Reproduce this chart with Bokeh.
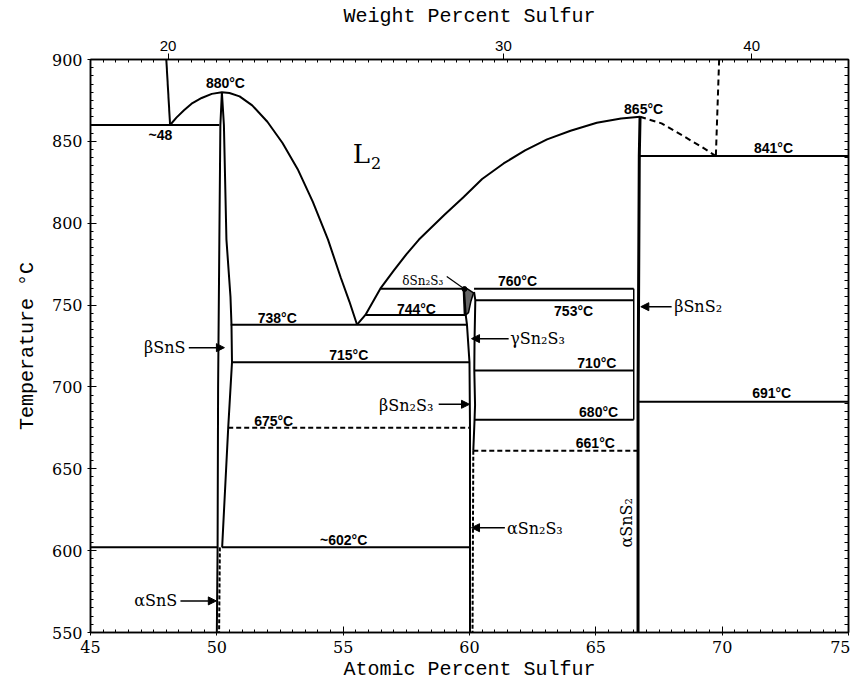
import numpy as np
from bokeh.plotting import figure
from bokeh.models import (Range1d, LinearAxis, FixedTicker, SingleIntervalTicker, Arrow,
                          NormalHead, CustomJSTickFormatter)
from bokeh.core.properties import value
from bokeh.embed import file_html
from bokeh.resources import INLINE

# ---------------- data ----------------
M_SN, M_S = 118.71, 32.06
wt_ticks = [20, 30, 40]

# L1 boundary (upper left)
l1_x = [48.0, 48.15]
l1_T = [900, 860]
# SnS dome liquidus
dome_x = [48.15, 48.4, 48.7, 49.0, 49.4, 49.8, 50.2, 50.5, 50.9, 51.4, 52.0, 52.6, 53.2, 53.8, 54.4, 54.9, 55.25, 55.55]
dome_T = [860, 864.5, 869, 873, 876.5, 879, 880, 879.5, 877.5, 872, 862, 849, 833, 813, 790, 767, 752, 738]
# Right liquidus (to SnS2)
liq_x = [55.55, 55.88, 56.47, 57.0, 57.5, 58.0, 58.5, 59.0, 59.77, 60.5, 61.35, 62.2, 63.07, 64.0, 65.04, 66.0, 66.75]
liq_T = [738, 744, 760, 771, 781, 790, 797.5, 805, 816, 827, 836.5, 844.5, 851.2, 856.5, 861.4, 864, 865]
# Dashed liquidus beyond SnS2
dliq_x = [66.75, 67.6, 68.47, 69.2, 69.75]
dliq_T = [865, 861, 853.2, 846.5, 841]
dvert_x = [69.88, 69.75]
dvert_T = [900, 841]

# Invariant lines (solid)
hs_T = [860, 841, 760, 760, 753, 744, 738, 715, 710, 691, 680, 602, 602]
hs_x0 = [45, 66.75, 56.47, 60.18, 60.22, 55.88, 50.55, 50.6, 60.2, 66.7, 60.2, 45, 50.2]
hs_x1 = [50.1, 75, 59.78, 66.5, 66.5, 59.85, 59.9, 60.0, 66.5, 75, 66.5, 50.05, 60.0]
# Invariant lines (dashed)
hd_T = [675, 661]
hd_x0 = [50.45, 60.15]
hd_x1 = [60.0, 66.67]

# SnS phase boundaries
sns_l_x = [50.2, 50.14, 50.1, 50.05, 50.03, 50.0]
sns_l_T = [880, 860, 790, 700, 602, 550]
sns_r_x = [50.2, 50.28, 50.38, 50.54, 50.58, 50.6, 50.45, 50.21]
sns_r_T = [880, 860, 790, 755, 738, 715, 675, 602]
asns_x = [50.12, 50.09]
asns_T = [602, 550]
# Sn2S3 boundaries
s23_l_x = [59.78, 59.85, 59.9, 60.0, 60.02, 60.02]
s23_l_T = [760, 744, 738, 715, 675, 550]
s23_r_x = [60.18, 60.23, 60.2, 60.19, 60.22, 60.2, 60.15]
s23_r_T = [758, 753, 729, 710, 689, 680, 661]
s23_d_x = [60.15, 60.12]
s23_d_T = [661, 550]
delta_x = [59.8, 59.76, 59.9, 60.16, 60.05, 59.96, 59.83]
delta_T = [744, 759, 760, 757.5, 752, 745.4, 743.7]
# SnS2 lines
sns2_x = [66.75, 66.72, 66.67, 66.67]
sns2_T = [865, 841, 691, 550]
sns2b_x = [66.5, 66.5]
sns2b_T = [760, 680]

# Temperature labels
tl_text = ["880°C", "~48", "865°C", "841°C", "760°C", "744°C", "738°C", "753°C",
           "715°C", "710°C", "675°C", "680°C", "691°C", "661°C", "~602°C"]
tl_x = [50.34, 47.77, 66.89, 72.03, 61.9, 57.9, 52.39, 64.12, 55.22, 65.04, 52.25, 65.11, 71.96, 64.98, 55.02]
tl_T = [885.8, 853.6, 869.5, 846, 764.7, 747.8, 742.3, 746.3, 719.3, 714.8, 679, 684.7, 696, 666, 606.5]

# Phase labels
pr_text = ["βSnS", "βSn₂S₃", "αSnS"]          # right-aligned
pr_x = [48.76, 58.57, 48.43]
pr_T = [724, 688.5, 569.3]
pl_text = ["γSn₂S₃", "βSnS₂", "αSn₂S₃"]       # left-aligned
pl_x = [61.61, 68.1, 61.48]
pl_T = [729.5, 749, 613.5]

# Arrows: start -> end
ar_x0 = [48.89, 58.78, 61.55, 68.0, 61.4, 48.56]
ar_T0 = [724, 689.4, 729.5, 749, 614, 569.3]
ar_x1 = [50.3, 60.0, 60.08, 66.78, 60.08, 49.98]
ar_T1 = [724, 689.4, 729.5, 749, 614, 569.3]

# ---------------- figure ----------------
p = figure(x_range=Range1d(45, 75), y_range=Range1d(550, 900),
           frame_width=758, frame_height=573,
           min_border_left=90, min_border_right=2, min_border_top=59, min_border_bottom=45,
           output_backend="svg", toolbar_location=None)
p.xgrid.visible = False
p.ygrid.visible = False
p.outline_line_color = "black"
p.outline_line_width = 1.5
p.background_fill_color = "white"
p.border_fill_color = "white"

tick_font = "DejaVu Serif"
title_font = "Liberation Mono"

p.xaxis.ticker = SingleIntervalTicker(interval=5, num_minor_ticks=10)
p.yaxis.ticker = SingleIntervalTicker(interval=50, num_minor_ticks=10)
for ax in (p.xaxis[0], p.yaxis[0]):
    ax.major_tick_in = 6
    ax.major_tick_out = 3
    ax.minor_tick_in = 3
    ax.minor_tick_out = 0
    ax.major_label_text_font = tick_font
    ax.major_label_text_font_size = "16px"
    ax.major_label_text_color = "black"
    ax.axis_label_text_font = title_font
    ax.axis_label_text_font_style = "normal"
    ax.axis_label_text_font_size = "20px"
    ax.axis_label_text_color = "black"
    ax.axis_line_width = 1.5
    ax.major_label_standoff = 5
p.xaxis.axis_label = "Atomic Percent Sulfur"
p.yaxis.axis_label = "Temperature °C"
p.xaxis.axis_label_standoff = 2
p.yaxis.axis_label_standoff = 10

# right mirror axis (ticks only)
ra = LinearAxis(ticker=FixedTicker(ticks=[], minor_ticks=list(np.arange(550, 900.1, 5))),
                major_tick_in=0, major_tick_out=0,
                minor_tick_in=4, minor_tick_out=0, axis_line_width=1.5)
p.add_layout(ra, "right")


def wt_to_at(w):
    a = w / M_S
    b = (100 - w) / M_SN
    return 100 * a / (a + b)


top_ticks = [wt_to_at(w) for w in wt_ticks]
fmt = CustomJSTickFormatter(code="""
const a = tick;
const w = 100 * a * 32.06 / (a * 32.06 + (100 - a) * 118.71);
return Math.round(w).toString();
""")
ta = LinearAxis(ticker=FixedTicker(ticks=top_ticks, minor_ticks=list(np.arange(45, 75.01, 0.5))),
                formatter=fmt, axis_label="Weight Percent Sulfur",
                major_tick_in=0, major_tick_out=6, minor_tick_in=3, minor_tick_out=0,
                axis_line_width=1.5, major_label_standoff=3,
                major_label_text_font="Liberation Sans", major_label_text_font_size="15px",
                major_label_text_color="black",
                axis_label_text_font=title_font, axis_label_text_font_style="normal",
                axis_label_text_font_size="20px", axis_label_text_color="black",
                axis_label_standoff=10)
p.add_layout(ta, "above")

LW = 2
# curves
p.line(l1_x, l1_T, line_color="black", line_width=LW)
p.line(dome_x, dome_T, line_color="black", line_width=LW)
p.line(liq_x, liq_T, line_color="black", line_width=LW)
p.line(dliq_x, dliq_T, line_color="black", line_width=LW, line_dash="6 4")
p.line(dvert_x, dvert_T, line_color="black", line_width=LW, line_dash="6 4")

# horizontals
p.segment(x0=hs_x0, y0=hs_T, x1=hs_x1, y1=hs_T, line_color="black", line_width=LW)
p.segment(x0=hd_x0, y0=hd_T, x1=hd_x1, y1=hd_T, line_color="black", line_width=LW, line_dash="5 3")

# phase boundaries
p.line(sns_l_x, sns_l_T, line_color="black", line_width=LW)
p.line(sns_r_x, sns_r_T, line_color="black", line_width=LW)
p.line(asns_x, asns_T, line_color="black", line_width=LW, line_dash="4 2")
p.line(s23_l_x, s23_l_T, line_color="black", line_width=LW)
p.line(s23_r_x, s23_r_T, line_color="black", line_width=LW)
p.line(s23_d_x, s23_d_T, line_color="black", line_width=LW, line_dash="4 2")
p.patch(delta_x, delta_T, fill_color="black", fill_alpha=0.6, line_color="black", line_width=1.5)
p.line(sns2_x, sns2_T, line_color="black", line_width=3)
p.line(sns2b_x, sns2b_T, line_color="black", line_width=1.5)

# temperature labels
p.text(x=tl_x, y=tl_T, text=tl_text, text_font=value("Liberation Sans"), text_font_style="bold",
       text_font_size="14px", text_align="center", text_baseline="middle", text_color="black")

# phase labels
p.text(x=pr_x, y=pr_T, text=pr_text, text_font=value("DejaVu Serif"), text_font_size="16px",
       text_align="right", text_baseline="middle", text_color="black")
p.text(x=pl_x, y=pl_T, text=pl_text, text_font=value("DejaVu Serif"), text_font_size="16px",
       text_align="left", text_baseline="middle", text_color="black")
p.text(x=[66.23], y=[617], text=["αSnS₂"], angle=np.pi / 2, text_font=value("DejaVu Serif"),
       text_font_size="16px", text_align="center", text_baseline="middle", text_color="black")
p.text(x=[58.15], y=[765], text=["δSn₂S₃"], text_font=value("DejaVu Serif"),
       text_font_size="12px", text_align="center", text_baseline="middle", text_color="black")
p.line([59.1, 59.8], [767.5, 759.8], line_color="black", line_width=1.2)
p.scatter([59.8], [759.8], size=5, color="black")
p.text(x=[55.72], y=[842.5], text=["L"], text_font=value("DejaVu Serif"), text_font_size="26px",
       text_align="center", text_baseline="middle", text_color="black")
p.text(x=[56.3], y=[837], text=["2"], text_font=value("DejaVu Serif"), text_font_size="16px",
       text_align="center", text_baseline="middle", text_color="black")

for x0, y0, x1, y1 in zip(ar_x0, ar_T0, ar_x1, ar_T1):
    p.add_layout(Arrow(x_start=x0, y_start=y0, x_end=x1, y_end=y1, line_width=1.5,
                       end=NormalHead(size=8, fill_color="black", line_color="black")))

open("out.html", "w").write(file_html(p, INLINE))
